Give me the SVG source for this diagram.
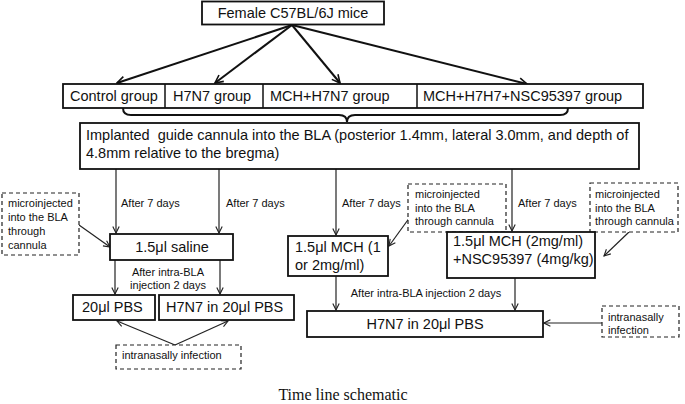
<svg xmlns="http://www.w3.org/2000/svg" width="685" height="404" viewBox="0 0 685 404">
<style>
text{font-family:"Liberation Sans",Arial,sans-serif;fill:#111}
.box{fill:#fff;stroke:#111;stroke-width:1.8}
.dash{fill:#fff;stroke:#222;stroke-width:1.2;stroke-dasharray:4,3}
.t15{font-size:14.5px}
.t16{font-size:14.5px}
.t12{font-size:11px}
.t11{font-size:11px}
.thick{stroke:#111;stroke-width:2;fill:none}
.thin{stroke:#222;stroke-width:1.2;fill:none}
</style>
<defs>
<marker id="ah" viewBox="0 0 10 10" refX="9" refY="5" markerWidth="10" markerHeight="10" markerUnits="userSpaceOnUse" orient="auto">
<path d="M1,1 L9,5 L1,9" fill="none" stroke="#111" stroke-width="1.6"/>
</marker>
<marker id="ahs" viewBox="0 0 10 10" refX="9" refY="5" markerWidth="8" markerHeight="8" markerUnits="userSpaceOnUse" orient="auto">
<path d="M1,1 L9,5 L1,9" fill="none" stroke="#222" stroke-width="1.4"/>
</marker>
</defs>

<g id="connectors">
<line class="thick" x1="292" y1="25" x2="117" y2="83" marker-end="url(#ah)"/>
<line class="thick" x1="292" y1="25" x2="215" y2="83" marker-end="url(#ah)"/>
<line class="thick" x1="292" y1="25" x2="340" y2="83" marker-end="url(#ah)"/>
<line class="thick" x1="292" y1="25" x2="527" y2="84" marker-end="url(#ah)"/>
<path class="thick" d="M123,108 Q123,115 131,115 L339,115 Q347,115 347,122 Q347,115 355,115 L560,115 Q568,115 568,108"/>
<line class="thin" x1="116" y1="169" x2="116" y2="233" marker-end="url(#ahs)"/>
<line class="thin" x1="219" y1="169" x2="219" y2="233" marker-end="url(#ahs)"/>
<line class="thin" x1="336" y1="169" x2="336" y2="235" marker-end="url(#ahs)"/>
<line class="thin" x1="512" y1="169" x2="512" y2="231" marker-end="url(#ahs)"/>
<line class="thin" x1="79" y1="225" x2="110" y2="247" marker-end="url(#ahs)"/>
<line class="thin" x1="410" y1="217" x2="389" y2="246" marker-end="url(#ahs)"/>
<line class="thin" x1="629" y1="232" x2="604" y2="256" marker-end="url(#ahs)"/>
<line class="thin" x1="115" y1="260" x2="115" y2="294" marker-end="url(#ahs)"/>
<line class="thin" x1="220" y1="260" x2="220" y2="294" marker-end="url(#ahs)"/>
<line class="thin" x1="175" y1="345" x2="117" y2="321" marker-end="url(#ahs)"/>
<line class="thin" x1="175" y1="345" x2="228" y2="321" marker-end="url(#ahs)"/>
<line class="thin" x1="336" y1="276" x2="336" y2="310" marker-end="url(#ahs)"/>
<line class="thin" x1="515" y1="278" x2="515" y2="310" marker-end="url(#ahs)"/>
<line class="thin" x1="602" y1="323" x2="544" y2="323" marker-end="url(#ahs)"/>
</g>

<g id="mice">
<rect class="box" x="202" y="1.5" width="182" height="23"/>
<text class="t15" x="293" y="18" text-anchor="middle">Female C57BL/6J mice</text>
</g>

<g id="groups">
<rect class="box" x="63" y="84" width="580" height="24"/>
<line stroke="#111" stroke-width="1.5" x1="165" y1="84" x2="165" y2="108"/>
<line stroke="#111" stroke-width="1.5" x1="263" y1="84" x2="263" y2="108"/>
<line stroke="#111" stroke-width="1.5" x1="417" y1="84" x2="417" y2="108"/>
<text class="t15" x="70" y="101">Control group</text>
<text class="t15" x="173" y="101">H7N7 group</text>
<text class="t15" x="270" y="101">MCH+H7N7 group</text>
<text class="t15" x="423" y="101">MCH+H7H7+NSC95397 group</text>
</g>

<g id="implant">
<rect class="box" x="80" y="123" width="559" height="46"/>
<text class="t15" x="86" y="140" style="white-space:pre">Implanted  guide cannula into the BLA (posterior 1.4mm, lateral 3.0mm, and depth of</text>
<text class="t15" x="86" y="158">4.8mm relative to the bregma)</text>
</g>

<g id="labels7">
<text class="t12" x="121" y="207">After 7 days</text>
<text class="t12" x="226" y="207">After 7 days</text>
<text class="t12" x="342" y="207">After 7 days</text>
<text class="t12" x="518" y="207">After 7 days</text>
</g>

<g id="micro1">
<rect class="dash" x="2" y="193" width="77" height="62"/>
<text class="t12" x="8" y="207">microinjected</text>
<text class="t12" x="8" y="221">into the BLA</text>
<text class="t12" x="8" y="235">through</text>
<text class="t12" x="8" y="249">cannula</text>
</g>

<g id="micro2">
<rect class="dash" x="408" y="184" width="98" height="48"/>
<text class="t11" x="415" y="198">microinjected</text>
<text class="t11" x="415" y="212">into the BLA</text>
<text class="t11" x="415" y="225">through cannula</text>
</g>

<g id="micro3">
<rect class="dash" x="590" y="183" width="88" height="49"/>
<text class="t11" x="595" y="198">microinjected</text>
<text class="t11" x="595" y="212">into the BLA</text>
<text class="t11" x="595" y="225">through cannula</text>
</g>

<g id="saline">
<rect class="box" x="110" y="234" width="123" height="26"/>
<text class="t16" x="172" y="252" text-anchor="middle">1.5μl saline</text>
</g>

<g id="mch1">
<rect class="box" x="288" y="236" width="100" height="40"/>
<text class="t15" x="295" y="252">1.5μl MCH (1</text>
<text class="t15" x="295" y="270">or 2mg/ml)</text>
</g>

<g id="mch2">
<rect class="box" x="447" y="232" width="148" height="46"/>
<text class="t15" x="453" y="246">1.5μl MCH (2mg/ml)</text>
<text class="t15" x="453" y="264">+NSC95397 (4mg/kg)</text>
</g>

<g id="label2days">
<text class="t12" x="168" y="276" text-anchor="middle">After intra-BLA</text>
<text class="t12" x="168" y="289" text-anchor="middle">injection 2 days</text>
<text class="t12" x="426" y="297" text-anchor="middle">After intra-BLA injection 2 days</text>
</g>

<g id="pbs">
<rect class="box" x="73" y="295" width="82" height="25"/>
<text class="t16" x="82" y="312">20μl PBS</text>
</g>

<g id="h7n7a">
<rect class="box" x="159" y="295" width="135" height="25"/>
<text class="t16" x="166" y="312">H7N7 in 20μl PBS</text>
</g>

<g id="intra1">
<rect class="dash" x="116" y="345" width="125" height="24"/>
<text class="t12" x="122" y="359">intranasally infection</text>
</g>

<g id="h7n7b">
<rect class="box" x="307" y="311" width="236" height="26"/>
<text class="t16" x="425" y="329" text-anchor="middle">H7N7 in 20μl PBS</text>
</g>

<g id="intra2">
<rect class="dash" x="602" y="306" width="77" height="31"/>
<text class="t12" x="608" y="321">intranasally</text>
<text class="t12" x="608" y="334">infection</text>
</g>

<text x="343" y="400" text-anchor="middle" style="font-family:'Liberation Serif','Times New Roman',serif;font-size:16px">Time line schematic</text>
</svg>
